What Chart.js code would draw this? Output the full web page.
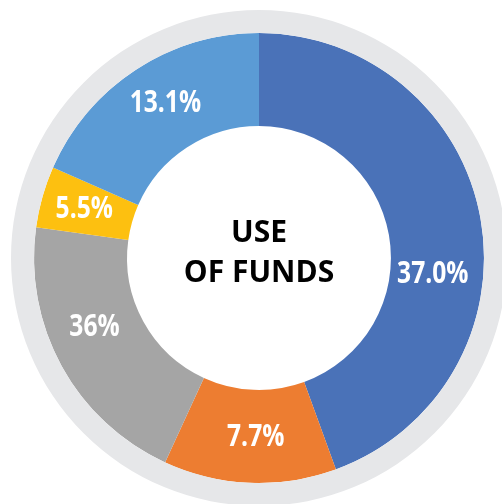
<!DOCTYPE html>
<html>
<head>
<meta charset="utf-8">
<script src="https://cdn.jsdelivr.net/npm/chart.js@4"></script>
<style>
  html, body { margin: 0; padding: 0; background: #ffffff; overflow: hidden; }
  #wrap { position: absolute; left: 0; top: 0; width: 518px; height: 516px; }
</style>
</head>
<body>
<div id="wrap"><canvas id="c"></canvas></div>
<script>
// Slice categories (clockwise from 12 o'clock)
const categories = ['Segment A', 'Segment B', 'Segment C', 'Segment D', 'Segment E'];
// Arc shares as drawn in the picture (percent of circle)
const arcShares = [44.4, 12.4, 20.3, 4.4, 18.4];
// Printed labels on the slices
const sliceLabels = ['37.0%', '7.7%', '36%', '5.5%', '13.1%'];
// Decorative outer ring (single full slice)
const ringValue = [100];
const centerTitle = ['USE', 'OF FUNDS'];

const sliceColors = ['#4a72b8', '#ed7d31', '#a5a5a5', '#fdc010', '#5b9bd5'];
const labelNudge = [[-2, 47], [4, 1], [-8, -16], [-3, 0], [4, -5]];

const labelPlugin = {
  id: 'sliceLabels',
  afterDatasetsDraw(chart) {
    const ctx = chart.ctx;
    const meta = chart.getDatasetMeta(1);
    ctx.save();
    ctx.fillStyle = '#ffffff';
    ctx.font = 'bold 30px "Open Sans", sans-serif';
    ctx.textAlign = 'center';
    ctx.textBaseline = 'middle';
    const sx = 0.82;
    meta.data.forEach((arc, i) => {
      const p = arc.getCenterPoint();
      const n = labelNudge[i];
      ctx.save();
      ctx.translate(p.x + n[0], p.y + n[1]);
      ctx.scale(sx, 1);
      ctx.fillText(sliceLabels[i], 0, 0);
      ctx.restore();
    });
    // center title
    const a = meta.data[0];
    ctx.fillStyle = '#000000';
    ctx.font = 'bold 30px "Open Sans", sans-serif';
    ctx.fillText(centerTitle[0], a.x, a.y - 25);
    ctx.fillText(centerTitle[1], a.x, a.y + 15);
    ctx.restore();
  }
};

new Chart(document.getElementById('c'), {
  type: 'doughnut',
  data: {
    labels: categories,
    datasets: [
      {
        data: ringValue,
        backgroundColor: ['#e6e7e9'],
        borderWidth: 0,
        weight: 23
      },
      {
        data: arcShares,
        backgroundColor: sliceColors,
        borderWidth: 0,
        weight: 93
      }
    ]
  },
  options: {
    responsive: true,
    maintainAspectRatio: false,
    animation: false,
    cutout: '53.2%',
    layout: { padding: 10 },
    plugins: {
      legend: { display: false },
      tooltip: { enabled: false }
    }
  },
  plugins: [labelPlugin]
});
</script>
</body>
</html>
